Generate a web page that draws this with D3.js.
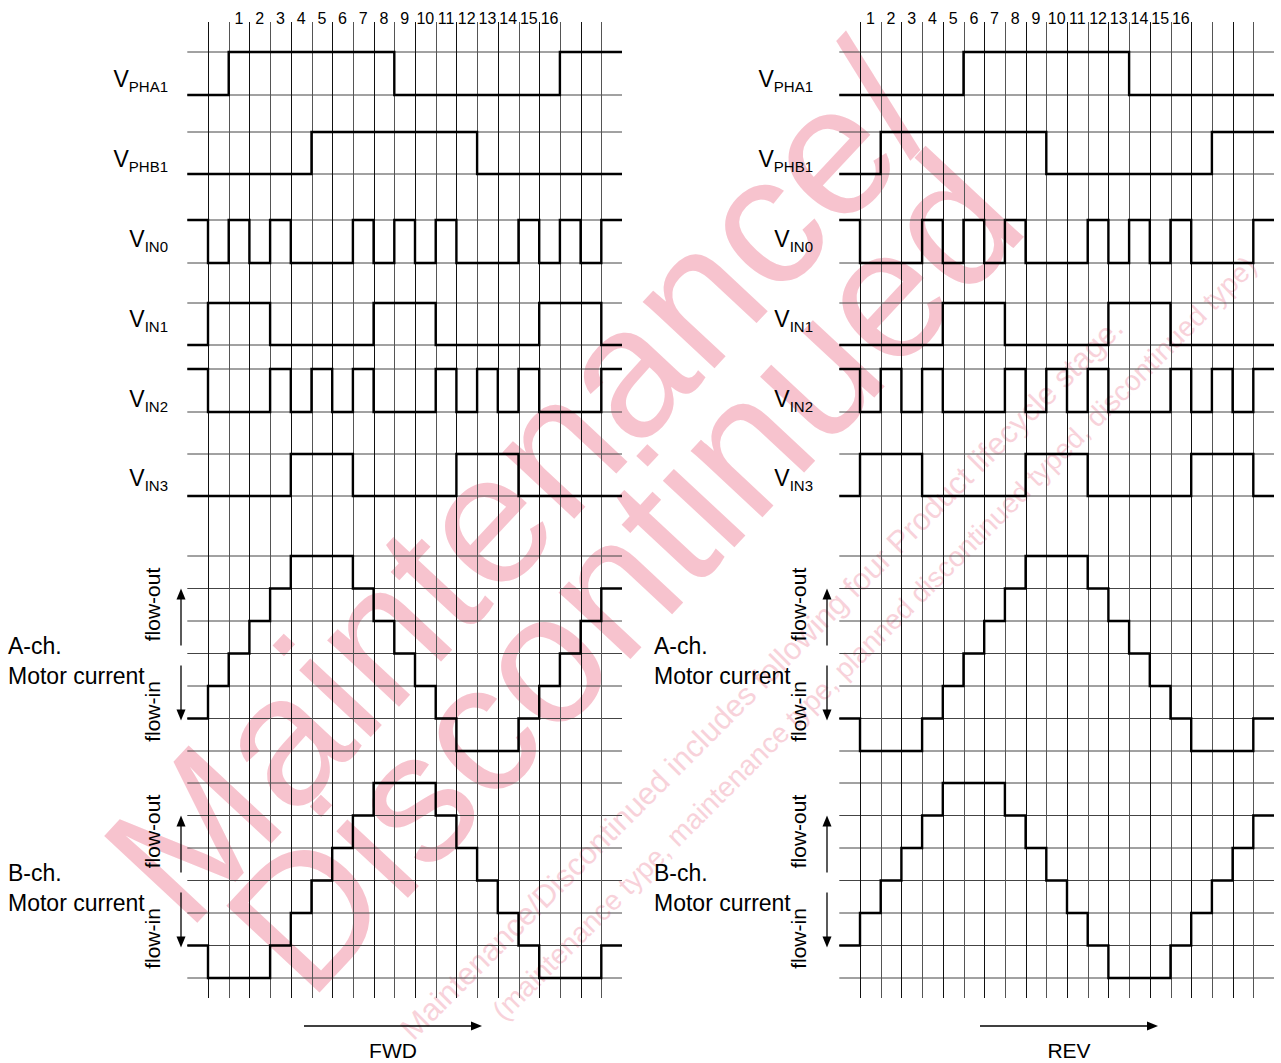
<!DOCTYPE html>
<html>
<head>
<meta charset="utf-8">
<script src="https://cdn.jsdelivr.net/npm/d3@7"></script>
<style>
body { margin: 0; background: #fff; }
svg { display: block; font-family: "Liberation Sans", Arial, sans-serif; }
</style>
</head>
<body>
<svg id="chart" width="1281" height="1063"></svg>
<script>
// one value per step, steps -1 .. 19
const steps = d3.range(-1, 20);
const stepLabels = ["1","2","3","4","5","6","7","8","9","10","11","12","13","14","15","16"];
const signalNames = ["PHA1", "PHB1", "IN0", "IN1", "IN2", "IN3"];

// FWD
const fwdPHA1 = [0,0,1,1,1,1,1,1,1,1,0,0,0,0,0,0,0,0,1,1,1];
const fwdPHB1 = [0,0,0,0,0,0,1,1,1,1,1,1,1,1,0,0,0,0,0,0,0];
const fwdIN0  = [1,0,1,0,1,0,0,0,1,0,1,0,1,0,0,0,1,0,1,0,1];
const fwdIN1  = [0,1,1,1,0,0,0,0,0,1,1,1,0,0,0,0,0,1,1,1,0];
const fwdIN2  = [1,0,0,0,1,0,1,0,1,0,0,0,1,0,1,0,1,0,0,0,1];
const fwdIN3  = [0,0,0,0,0,1,1,1,0,0,0,0,0,1,1,1,0,0,0,0,0];
const fwdIA   = [-2,-1,0,1,2,3,3,3,2,1,0,-1,-2,-3,-3,-3,-2,-1,0,1,2];
const fwdIB   = [-2,-3,-3,-3,-2,-1,0,1,2,3,3,3,2,1,0,-1,-2,-3,-3,-3,-2];

// REV
const revPHA1 = [0,0,0,0,0,0,1,1,1,1,1,1,1,1,0,0,0,0,0,0,0];
const revPHB1 = [0,0,1,1,1,1,1,1,1,1,0,0,0,0,0,0,0,0,1,1,1];
const revIN0  = [1,0,0,0,1,0,1,0,1,0,0,0,1,0,1,0,1,0,0,0,1];
const revIN1  = [0,0,0,0,0,1,1,1,0,0,0,0,0,1,1,1,0,0,0,0,0];
const revIN2  = [1,0,1,0,1,0,0,0,1,0,1,0,1,0,0,0,1,0,1,0,1];
const revIN3  = [0,1,1,1,0,0,0,0,0,1,1,1,0,0,0,0,0,1,1,1,0];
const revIA   = [-2,-3,-3,-3,-2,-1,0,1,2,3,3,3,2,1,0,-1,-2,-3,-3,-3,-2];
const revIB   = [-2,-1,0,1,2,3,3,3,2,1,0,-1,-2,-3,-3,-3,-2,-1,0,1,2];

const currentLevels = d3.range(-3, 4);

// layout
const rowHi = [52, 132, 220, 303, 369, 454];
const rowLo = [95, 174, 263, 345, 412, 496];
const rowLabelY = [87, 167, 247, 327, 407, 486];
const gridTop = 22, gridBottom = 998;

const svg = d3.select('#chart');

// ---- watermark (behind everything) ----
const wm = svg.append('g').attr('class', 'watermark');
wm.append('text')
    .attr('transform', 'translate(525,490) rotate(-47)')
    .attr('text-anchor', 'middle').attr('dy', '0.3em')
    .attr('font-size', 185).attr('fill', '#f7c3ce')
    .attr('textLength', 1110).attr('lengthAdjust', 'spacingAndGlyphs')
    .text('Maintenance/');
wm.append('text')
    .attr('transform', 'translate(630,578) rotate(-47)')
    .attr('text-anchor', 'middle').attr('dy', '0.3em')
    .attr('font-size', 185).attr('fill', '#f7c3ce')
    .attr('textLength', 1060).attr('lengthAdjust', 'spacingAndGlyphs')
    .text('Discontinued');
wm.append('text')
    .attr('transform', 'translate(1125,330) rotate(-45)')
    .attr('text-anchor', 'end')
    .attr('font-size', 31).attr('fill', '#f8d2da')
    .text('Maintenance/Discontinued includes following four Product lifecycle stage.');
wm.append('text')
    .attr('transform', 'translate(1258,268) rotate(-45)')
    .attr('text-anchor', 'end')
    .attr('font-size', 28).attr('fill', '#f8d2da')
    .text('(maintenance type, maintenance type, planned discontinued typed, discontinued type)');

const panels = [
    { x0: 187.3, x1: 622, labelX: 168, textX: 8, arrowX: 181, flowX: 160, stepShift: 1.5,
      dir: 'FWD', dirX0: 304, dirX1: 482,
      digital: [fwdPHA1, fwdPHB1, fwdIN0, fwdIN1, fwdIN2, fwdIN3], ia: fwdIA, ib: fwdIB },
    { x0: 839.3, x1: 1274, labelX: 813, textX: 654, arrowX: 827, flowX: 806, stepShift: 0.5,
      dir: 'REV', dirX0: 980, dirX1: 1158,
      digital: [revPHA1, revPHB1, revIN0, revIN1, revIN2, revIN3], ia: revIA, ib: revIB }
];

const currents = [
    { name: 'A-ch.', y: d3.scaleLinear().domain([-3, 3]).range([751, 556]), key: 'ia' },
    { name: 'B-ch.', y: d3.scaleLinear().domain([-3, 3]).range([978, 783]), key: 'ib' }
];

let toPoints = (vals) => {
    let pts = steps.map((t, i) => ({ t: t, v: vals[i] }));
    pts.push({ t: 20, v: vals[vals.length - 1] });
    return pts;
};

let arrowHead = (g, x, y, up) => {
    let s = up ? -1 : 1;
    g.append('path')
        .attr('d', `M${x},${y} L${x - 4.5},${y - s * 11} L${x + 4.5},${y - s * 11} Z`)
        .attr('fill', '#000');
};

panels.forEach(p => {
    const g = svg.append('g');
    const x = d3.scaleLinear().domain([-1, 20]).range([p.x0, p.x1]);

    // horizontal grid
    let hLines = [];
    rowHi.forEach((h, i) => { hLines.push(h); hLines.push(rowLo[i]); });
    currents.forEach(c => currentLevels.forEach(l => hLines.push(c.y(l))));
    g.selectAll('line.h').data(hLines).enter().append('line')
        .attr('class', 'h')
        .attr('x1', x(-1)).attr('x2', x(20))
        .attr('y1', d => d).attr('y2', d => d)
        .attr('stroke', '#444').attr('stroke-width', 1);

    // vertical grid
    g.selectAll('line.v').data(d3.range(0, 20)).enter().append('line')
        .attr('class', 'v')
        .attr('x1', d => Math.round(x(d)) + 0.5).attr('x2', d => Math.round(x(d)) + 0.5)
        .attr('y1', gridTop).attr('y2', gridBottom)
        .attr('stroke', d => d % 2 ? '#555' : '#111').attr('stroke-width', 1);

    // step numbers
    g.selectAll('text.step').data(stepLabels).enter().append('text')
        .attr('class', 'step')
        .attr('x', (d, i) => x(i + p.stepShift)).attr('y', 24)
        .attr('text-anchor', 'middle').attr('font-size', 16)
        .text(d => d);

    // digital signals
    p.digital.forEach((vals, r) => {
        const y = d3.scaleLinear().domain([0, 1]).range([rowLo[r], rowHi[r]]);
        const line = d3.line().x(d => x(d.t)).y(d => y(d.v)).curve(d3.curveStepAfter);
        g.append('path').datum(toPoints(vals))
            .attr('d', line).attr('fill', 'none')
            .attr('stroke', '#000').attr('stroke-width', 2.4);

        const lbl = g.append('text')
            .attr('x', p.labelX).attr('y', rowLabelY[r])
            .attr('text-anchor', 'end').attr('font-size', 23);
        lbl.append('tspan').text('V');
        lbl.append('tspan').attr('font-size', 15).attr('dy', 5).text(signalNames[r]);
    });

    // motor currents
    currents.forEach(c => {
        const line = d3.line().x(d => x(d.t)).y(d => c.y(d.v)).curve(d3.curveStepAfter);
        g.append('path').datum(toPoints(p[c.key]))
            .attr('d', line).attr('fill', 'none')
            .attr('stroke', '#000').attr('stroke-width', 2.4);

        const mid = c.y(0);
        g.append('text').attr('x', p.textX).attr('y', mid + 0).attr('font-size', 23).text(c.name);
        g.append('text').attr('x', p.textX).attr('y', mid + 30).attr('font-size', 23).text('Motor current');

        g.append('text')
            .attr('transform', `translate(${p.flowX},${mid - 49}) rotate(-90)`)
            .attr('text-anchor', 'middle').attr('font-size', 21).text('flow-out');
        g.append('text')
            .attr('transform', `translate(${p.flowX},${mid + 58}) rotate(-90)`)
            .attr('text-anchor', 'middle').attr('font-size', 21).text('flow-in');

        g.append('line')
            .attr('x1', p.arrowX).attr('x2', p.arrowX)
            .attr('y1', mid - 8).attr('y2', mid - 60)
            .attr('stroke', '#000').attr('stroke-width', 1.3);
        arrowHead(g, p.arrowX, mid - 65, true);
        g.append('line')
            .attr('x1', p.arrowX).attr('x2', p.arrowX)
            .attr('y1', mid + 12).attr('y2', mid + 62)
            .attr('stroke', '#000').attr('stroke-width', 1.3);
        arrowHead(g, p.arrowX, mid + 67, false);
    });

    // direction arrow
    g.append('line')
        .attr('x1', p.dirX0).attr('x2', p.dirX1 - 8)
        .attr('y1', 1026).attr('y2', 1026)
        .attr('stroke', '#000').attr('stroke-width', 1.3);
    g.append('path')
        .attr('d', `M${p.dirX1},1026 L${p.dirX1 - 11},${1026 - 4.5} L${p.dirX1 - 11},${1026 + 4.5} Z`)
        .attr('fill', '#000');
    g.append('text')
        .attr('x', (p.dirX0 + p.dirX1) / 2).attr('y', 1058)
        .attr('text-anchor', 'middle').attr('font-size', 21)
        .text(p.dir);
});
</script>
</body>
</html>
